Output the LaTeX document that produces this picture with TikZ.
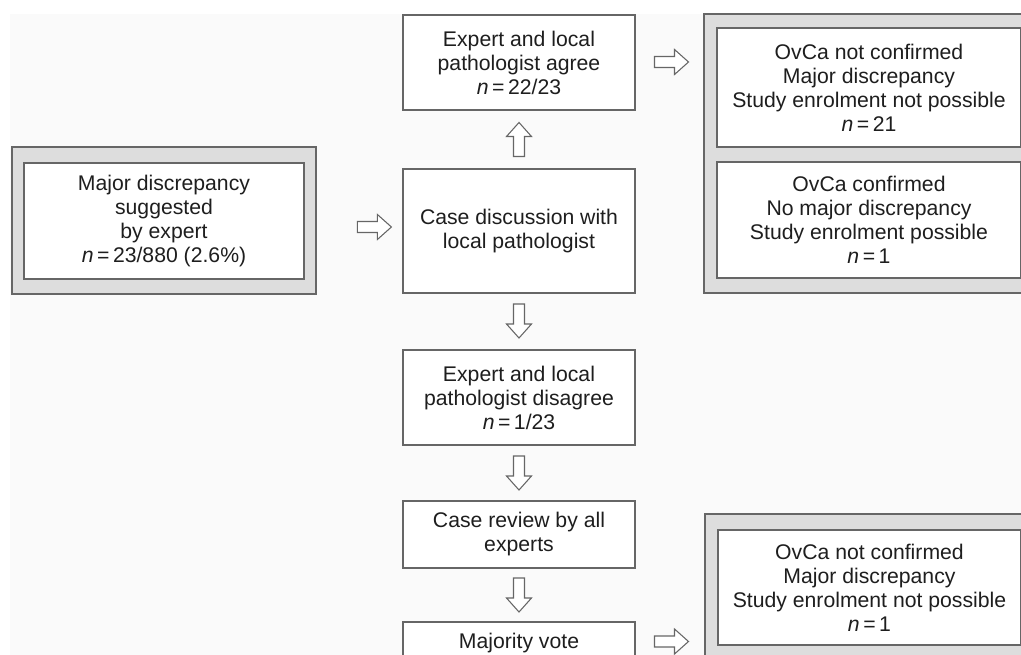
\documentclass[tikz,border=0pt]{standalone}
\usepackage{fontspec}
\setmainfont{Liberation Sans}
\usetikzlibrary{calc}
\definecolor{linec}{HTML}{666666}
\definecolor{framefill}{HTML}{DDDDDD}
\definecolor{bgc}{HTML}{FAFAFA}
\definecolor{txtc}{HTML}{1E1E1E}
\tikzset{
  box/.style={draw=linec, fill=white, line width=0.9pt, align=center, inner sep=0pt,
    text=txtc, font=\fontsize{15.9}{18}\selectfont},
  frame/.style={draw=linec, fill=framefill, line width=0.9pt, inner sep=0pt},
  pics/blockarrow/.style={code={
    \draw[draw=linec, fill=white, line width=0.8pt, line join=miter]
      (-17,-5.5) -- (3,-5.5) -- (3,-12.5) -- (17,0) -- (3,12.5) -- (3,5.5) -- (-17,5.5) -- cycle;
  }}
}
\newcommand{\nn}{\textit{n}\,=\,}
\begin{document}
\begin{tikzpicture}[x=0.75pt,y=-0.75pt]
\clip (0,0) rectangle (1021,655);
\fill[white] (0,0) rectangle (1021,655);
\fill[bgc] (10,14) rectangle (1021,655);

% left
\node[frame, minimum width=304*0.75pt, minimum height=147*0.75pt] (leftO) at (164,220.5) {};
\node[box, minimum width=280*0.75pt, minimum height=116*0.75pt] (left) at (164,221)
  {Major discrepancy\\suggested\\by expert\\\nn 23/880 (2.6\%)};

% center column
\node[box, minimum width=232*0.75pt, minimum height=95*0.75pt] (agree) at (519,62.5)
  {Expert and local\\pathologist agree\\\nn 22/23};
\node[box, minimum width=232*0.75pt, minimum height=124*0.75pt] (case) at (519,231)
  {Case discussion with\\local pathologist};
\node[box, minimum width=232*0.75pt, minimum height=95*0.75pt] (dis) at (519,397.5)
  {Expert and local\\pathologist disagree\\\nn 1/23};
\node[box, minimum width=232*0.75pt, minimum height=67*0.75pt] (rev) at (519,534.5)
  {Case review by all\\experts};
\node[box, minimum width=232*0.75pt, minimum height=42*0.75pt] (maj) at (519,643)
  {Majority vote};

% right top
\node[frame, minimum width=330*0.75pt, minimum height=279*0.75pt] (rO) at (869,153.5) {};
\node[box, minimum width=304*0.75pt, minimum height=119*0.75pt] (r1) at (869,87.5)
  {OvCa not confirmed\\Major discrepancy\\Study enrolment not possible\\\nn 21};
\node[box, minimum width=304*0.75pt, minimum height=116*0.75pt] (r2) at (869,220)
  {OvCa confirmed\\No major discrepancy\\Study enrolment possible\\\nn 1};

% right bottom
\node[frame, minimum width=330*0.75pt, minimum height=156*0.75pt] (bO) at (870,592) {};
\node[box, minimum width=303*0.75pt, minimum height=115*0.75pt] (b1) at (869.5,587.5)
  {OvCa not confirmed\\Major discrepancy\\Study enrolment not possible\\\nn 1};

% block arrows
\pic at ($(case.west |- case.center)+(-28,-4)$) {blockarrow};
\pic[rotate=90] at ($(agree.south)!0.5!(case.north)$) {blockarrow};
\pic at (671.5,62) {blockarrow};
\pic[rotate=-90] at ($(case.south)!0.5!(dis.north)+(0,-0.5)$) {blockarrow};
\pic[rotate=-90] at ($(dis.south)!0.5!(rev.north)$) {blockarrow};
\pic[rotate=-90] at ($(rev.south)!0.5!(maj.north)$) {blockarrow};
\pic at (671.5,641.5) {blockarrow};
\end{tikzpicture}
\end{document}
